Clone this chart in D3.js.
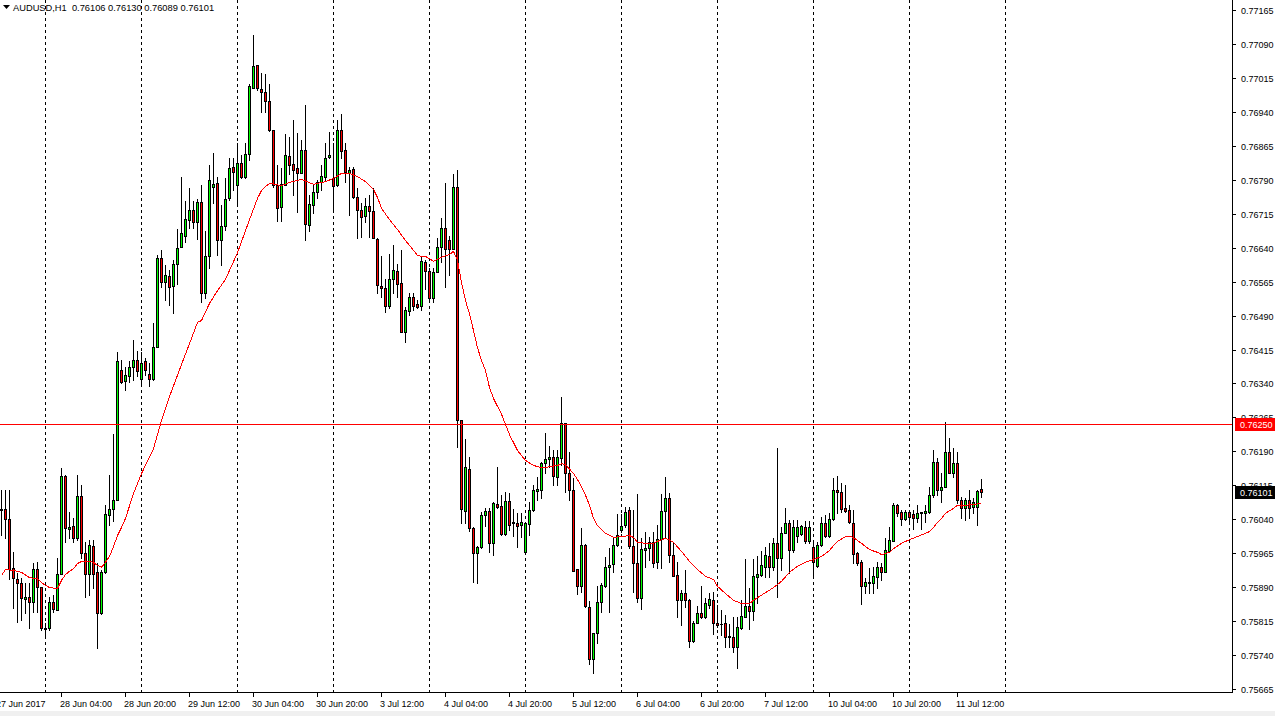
<!DOCTYPE html>
<html><head><meta charset="utf-8">
<script src="https://cdn.jsdelivr.net/npm/d3@7"></script>
<style>
html,body{margin:0;padding:0;background:#fff;overflow:hidden}
svg{display:block}
text{font-family:"Liberation Sans",Arial,sans-serif}
</style></head><body>
<svg id="c" width="1275" height="716"></svg>
<script>
// ---------- data ----------
const symbolTitle = "AUDUSD,H1";
const lastBarOHLC = [0.76106, 0.76130, 0.76089, 0.76101];

const opens = [0.76060,0.76063,0.76041,0.75932,0.75908,0.75899,0.75864,0.75868,0.75857,0.75930,
0.75890,0.75798,0.75800,0.75857,0.75840,0.75919,0.76136,0.76018,0.76025,0.75999,
0.76091,0.75966,0.75919,0.75981,0.75924,0.75833,0.75924,0.76049,0.76063,0.76083,
0.76370,0.76345,0.76356,0.76376,0.76392,0.76350,0.76390,0.76361,0.76350,0.76420,
0.76617,0.76564,0.76577,0.76555,0.76604,0.76641,0.76666,0.76701,0.76723,0.76697,
0.76741,0.76540,0.76622,0.76774,0.76783,0.76657,0.76688,0.76750,0.76818,0.76778,
0.76827,0.76796,0.76847,0.76993,0.77044,0.76990,0.76984,0.76964,0.76900,0.76778,
0.76730,0.76778,0.76842,0.76825,0.76816,0.76805,0.76856,0.76690,0.76734,0.76763,
0.76785,0.76796,0.76840,0.76794,0.76778,0.76900,0.76856,0.76805,0.76814,0.76752,
0.76723,0.76710,0.76732,0.76721,0.76659,0.76555,0.76551,0.76511,0.76571,0.76588,
0.76562,0.76454,0.76500,0.76531,0.76516,0.76511,0.76608,0.76588,0.76529,0.76586,
0.76641,0.76683,0.76657,0.76637,0.76774,0.76259,0.76058,0.76151,0.76021,0.75966,
0.75979,0.76049,0.76058,0.75988,0.76074,0.76069,0.76007,0.76080,0.76032,0.76032,
0.76027,0.75968,0.76030,0.76060,0.76102,0.76105,0.76164,0.76173,0.76178,0.76133,
0.76175,0.76253,0.76142,0.76105,0.75930,0.75893,0.75983,0.75846,0.75731,0.75789,
0.75857,0.75893,0.75935,0.75941,0.75983,0.76016,0.76027,0.76060,0.75981,0.75943,
0.75866,0.75972,0.75976,0.75990,0.75946,0.75996,0.76058,0.76087,0.75961,0.75917,
0.75862,0.75877,0.75862,0.75771,0.75811,0.75833,0.75824,0.75851,0.75862,0.75811,
0.75809,0.75811,0.75782,0.75780,0.75758,0.75800,0.75824,0.75848,0.75837,0.75912,
0.75917,0.75935,0.75959,0.75935,0.75988,0.75954,0.76010,0.76032,0.75972,0.76003,
0.76007,0.76023,0.75992,0.75979,0.75937,0.75983,0.76032,0.76003,0.76041,0.76105,
0.76100,0.76065,0.76060,0.76032,0.75966,0.75946,0.75893,0.75899,0.75899,0.75912,
0.75935,0.75924,0.75970,0.75992,0.76072,0.76056,0.76041,0.76056,0.76052,0.76043,
0.76055,0.76054,0.76056,0.76094,0.76167,0.76105,0.76111,0.76189,0.76142,0.76164,
0.76083,0.76065,0.76083,0.76067,0.76067,0.76106];

const highs = [0.76105,0.76105,0.76105,0.75968,0.75921,0.75910,0.75899,0.75899,0.75943,0.75946,
0.75890,0.75811,0.75868,0.75873,0.75954,0.76153,0.76138,0.76056,0.76043,0.76138,
0.76116,0.75990,0.75994,0.75994,0.75943,0.75928,0.76072,0.76138,0.76228,0.76410,
0.76392,0.76376,0.76390,0.76436,0.76412,0.76410,0.76396,0.76385,0.76474,0.76624,
0.76635,0.76602,0.76591,0.76613,0.76681,0.76796,0.76743,0.76772,0.76743,0.76747,
0.76778,0.76677,0.76823,0.76849,0.76796,0.76734,0.76794,0.76838,0.76838,0.76871,
0.76845,0.76871,0.77002,0.77110,0.77044,0.77026,0.77024,0.77002,0.76900,0.76823,
0.76816,0.76891,0.76884,0.76922,0.76893,0.76878,0.76955,0.76756,0.76778,0.76789,
0.76823,0.76871,0.76895,0.76871,0.76922,0.76935,0.76871,0.76818,0.76818,0.76772,
0.76739,0.76750,0.76756,0.76772,0.76661,0.76622,0.76571,0.76626,0.76646,0.76604,
0.76635,0.76509,0.76540,0.76540,0.76524,0.76619,0.76613,0.76595,0.76595,0.76661,
0.76705,0.76783,0.76666,0.76803,0.76812,0.76259,0.76217,0.76178,0.76023,0.75981,
0.76056,0.76065,0.76065,0.76078,0.76155,0.76094,0.76100,0.76098,0.76063,0.76054,
0.76054,0.76034,0.76078,0.76116,0.76133,0.76167,0.76231,0.76202,0.76193,0.76193,
0.76310,0.76253,0.76189,0.76131,0.75930,0.76021,0.75985,0.75859,0.75789,0.75893,
0.75899,0.75957,0.75976,0.76001,0.76052,0.76052,0.76067,0.76067,0.76060,0.76096,
0.75999,0.76012,0.76001,0.76012,0.76027,0.76096,0.76133,0.76098,0.75988,0.75946,
0.75884,0.75928,0.75864,0.75815,0.75848,0.75893,0.75866,0.75877,0.75879,0.75851,
0.75840,0.75829,0.75809,0.75824,0.75824,0.75862,0.75952,0.75888,0.75952,0.75959,
0.75970,0.75979,0.75988,0.75999,0.76197,0.76023,0.76065,0.76038,0.76038,0.76038,
0.76027,0.76036,0.76036,0.75988,0.75990,0.76045,0.76049,0.76054,0.76131,0.76136,
0.76120,0.76116,0.76072,0.76060,0.75968,0.75950,0.75910,0.75932,0.75935,0.75946,
0.75943,0.75999,0.76023,0.76076,0.76074,0.76060,0.76060,0.76060,0.76060,0.76072,
0.76056,0.76072,0.76111,0.76193,0.76175,0.76142,0.76255,0.76219,0.76197,0.76189,
0.76090,0.76087,0.76105,0.76087,0.76105,0.76130];

const lows = [0.76005,0.75999,0.75908,0.75844,0.75813,0.75817,0.75833,0.75800,0.75835,0.75835,
0.75795,0.75784,0.75795,0.75835,0.75840,0.75919,0.75990,0.75999,0.75990,0.75994,
0.75954,0.75868,0.75873,0.75888,0.75756,0.75831,0.75921,0.76027,0.76036,0.76083,
0.76341,0.76326,0.76343,0.76348,0.76356,0.76337,0.76359,0.76334,0.76348,0.76420,
0.76553,0.76524,0.76513,0.76496,0.76560,0.76641,0.76652,0.76683,0.76683,0.76659,
0.76520,0.76529,0.76595,0.76739,0.76624,0.76602,0.76679,0.76745,0.76767,0.76734,
0.76794,0.76794,0.76834,0.76993,0.76988,0.76940,0.76940,0.76898,0.76774,0.76699,
0.76699,0.76778,0.76803,0.76756,0.76719,0.76805,0.76657,0.76677,0.76717,0.76750,
0.76767,0.76789,0.76838,0.76723,0.76776,0.76838,0.76785,0.76712,0.76750,0.76661,
0.76663,0.76697,0.76663,0.76661,0.76540,0.76531,0.76498,0.76507,0.76540,0.76531,
0.76454,0.76432,0.76491,0.76502,0.76507,0.76502,0.76549,0.76520,0.76520,0.76586,
0.76608,0.76553,0.76580,0.76637,0.76200,0.76032,0.76032,0.76014,0.75901,0.75899,
0.75976,0.76025,0.75968,0.75961,0.76065,0.76005,0.76005,0.76016,0.76003,0.75979,
0.76001,0.75966,0.76005,0.76058,0.76083,0.76087,0.76142,0.76155,0.76116,0.76116,
0.76160,0.76100,0.76083,0.75926,0.75875,0.75879,0.75846,0.75720,0.75700,0.75767,
0.75835,0.75890,0.75835,0.75924,0.75981,0.76012,0.76023,0.75976,0.75879,0.75857,
0.75842,0.75935,0.75950,0.75935,0.75932,0.75932,0.75999,0.75946,0.75915,0.75824,
0.75806,0.75846,0.75758,0.75769,0.75811,0.75822,0.75822,0.75844,0.75787,0.75802,
0.75784,0.75758,0.75758,0.75747,0.75711,0.75798,0.75824,0.75798,0.75817,0.75855,
0.75915,0.75912,0.75912,0.75928,0.75868,0.75928,0.76010,0.75921,0.75968,0.75990,
0.76005,0.75988,0.75988,0.75912,0.75935,0.75981,0.76001,0.76001,0.76038,0.76054,
0.76056,0.76056,0.76032,0.75943,0.75939,0.75853,0.75877,0.75877,0.75877,0.75888,
0.75906,0.75924,0.75968,0.75992,0.76047,0.76027,0.76038,0.76032,0.76018,0.76034,
0.76018,0.76034,0.76054,0.76090,0.76094,0.76078,0.76111,0.76142,0.76133,0.76076,
0.76043,0.76038,0.76043,0.76054,0.76027,0.76089];

const closes = [0.76063,0.76041,0.75930,0.75910,0.75899,0.75866,0.75868,0.75857,0.75930,0.75890,
0.75800,0.75800,0.75857,0.75842,0.75919,0.76136,0.76021,0.76023,0.75999,0.76091,
0.75966,0.75919,0.75983,0.75919,0.75833,0.75924,0.76052,0.76063,0.76083,0.76390,
0.76343,0.76359,0.76376,0.76392,0.76368,0.76385,0.76370,0.76350,0.76420,0.76617,
0.76564,0.76580,0.76553,0.76604,0.76639,0.76672,0.76703,0.76723,0.76697,0.76741,
0.76540,0.76622,0.76789,0.76781,0.76657,0.76688,0.76747,0.76816,0.76807,0.76827,
0.76796,0.76847,0.76997,0.77041,0.76993,0.76984,0.76964,0.76900,0.76778,0.76728,
0.76781,0.76845,0.76823,0.76812,0.76805,0.76856,0.76692,0.76736,0.76763,0.76785,
0.76798,0.76838,0.76845,0.76776,0.76900,0.76854,0.76807,0.76812,0.76752,0.76723,
0.76708,0.76732,0.76721,0.76661,0.76558,0.76551,0.76511,0.76571,0.76591,0.76560,
0.76454,0.76502,0.76531,0.76511,0.76509,0.76611,0.76588,0.76529,0.76586,0.76641,
0.76683,0.76637,0.76637,0.76774,0.76259,0.76063,0.76155,0.76021,0.75966,0.75979,
0.76049,0.76058,0.75988,0.76076,0.76067,0.76007,0.76080,0.76027,0.76034,0.76025,
0.76034,0.76032,0.76060,0.76105,0.76107,0.76164,0.76173,0.76178,0.76136,0.76178,
0.76253,0.76142,0.76105,0.75926,0.75893,0.75983,0.75848,0.75731,0.75789,0.75857,
0.75895,0.75935,0.75939,0.75983,0.76005,0.76025,0.76056,0.75981,0.75943,0.75866,
0.75974,0.75976,0.75990,0.75943,0.75996,0.76058,0.76087,0.75961,0.75915,0.75862,
0.75877,0.75862,0.75771,0.75811,0.75833,0.75824,0.75855,0.75864,0.75811,0.75806,
0.75808,0.75780,0.75780,0.75758,0.75802,0.75826,0.75848,0.75837,0.75915,0.75919,
0.75939,0.75961,0.75935,0.75988,0.75954,0.76010,0.76032,0.75972,0.76023,0.76023,
0.76025,0.75992,0.76023,0.75946,0.75983,0.76032,0.76003,0.76041,0.76105,0.76100,
0.76063,0.76058,0.76034,0.75963,0.75943,0.75893,0.75901,0.75901,0.75915,0.75935,
0.75924,0.75972,0.75994,0.76072,0.76054,0.76041,0.76056,0.76045,0.76043,0.76054,
0.76054,0.76058,0.76094,0.76167,0.76105,0.76111,0.76189,0.76142,0.76164,0.76083,
0.76065,0.76083,0.76065,0.76078,0.76102,0.76101];

// moving average (red line), read at selected bars
const maIndex = [0,1,3,5,7,9,10,12,14,15,16,17,18,19,20,22,23,24,25,26,27,28,29,30,31,33,35,38,40,42,45,47,49,50,52,54,56,59,62,64,65,66,67,70,72,75,78,81,83,85,87,89,91,93,94,95,97,99,101,103,104,105,106,108,110,112,113,114,115,116,117,118,119,120,121,122,123,125,127,129,131,133,135,137,139,140,141,143,144,145,146,147,148,149,151,153,155,157,158,159,161,163,165,166,168,170,172,174,176,178,179,181,183,185,187,188,189,191,193,195,197,199,201,203,205,207,208,209,211,212,213,214,215,216,217,219,220,222,223,225,227,229,231,232,233,234,235,236,237,238,239,241,243,245];
const maValue = [0.75917,0.75930,0.75928,0.75924,0.75912,0.75910,0.75901,0.75890,0.75888,0.75906,0.75919,0.75926,0.75932,0.75943,0.75948,0.75948,0.75946,0.75939,0.75935,0.75946,0.75959,0.75981,0.76005,0.76023,0.76043,0.76098,0.76142,0.76197,0.76259,0.76312,0.76383,0.76429,0.76476,0.76480,0.76518,0.76546,0.76571,0.76630,0.76703,0.76750,0.76767,0.76776,0.76783,0.76778,0.76785,0.76792,0.76781,0.76787,0.76794,0.76805,0.76805,0.76798,0.76787,0.76770,0.76752,0.76728,0.76703,0.76681,0.76657,0.76635,0.76624,0.76622,0.76622,0.76611,0.76620,0.76626,0.76633,0.76613,0.76564,0.76524,0.76495,0.76458,0.76420,0.76392,0.76370,0.76332,0.76308,0.76273,0.76228,0.76193,0.76171,0.76160,0.76155,0.76157,0.76160,0.76164,0.76162,0.76142,0.76129,0.76113,0.76094,0.76072,0.76043,0.76027,0.76010,0.76001,0.76003,0.76005,0.76001,0.75990,0.75988,0.75988,0.75996,0.75999,0.75990,0.75970,0.75948,0.75930,0.75915,0.75908,0.75893,0.75877,0.75862,0.75855,0.75855,0.75862,0.75868,0.75879,0.75890,0.75904,0.75924,0.75937,0.75946,0.75952,0.75959,0.75972,0.75983,0.75992,0.76003,0.76003,0.76001,0.75994,0.75988,0.75981,0.75974,0.75968,0.75963,0.75968,0.75976,0.75988,0.75996,0.76003,0.76010,0.76014,0.76023,0.76034,0.76043,0.76054,0.76060,0.76065,0.76072,0.76072,0.76074,0.76076];

const dayStartIndex = [11,35,59,83,107,131,155,179,203,227,251];
const timeTickIndex = [-1,15,31,47,63,79,95,111,127,143,159,175,191,207,223,239];
const timeTickLabels = ["27 Jun 2017","28 Jun 04:00","28 Jun 20:00","29 Jun 12:00","30 Jun 04:00","30 Jun 20:00","3 Jul 12:00","4 Jul 04:00","4 Jul 20:00","5 Jul 12:00","6 Jul 04:00","6 Jul 20:00","7 Jul 12:00","10 Jul 04:00","10 Jul 20:00","11 Jul 12:00"];
const priceTicks = [0.77165,0.77090,0.77015,0.76940,0.76865,0.76790,0.76715,0.76640,0.76565,0.76490,0.76415,0.76340,0.76265,0.76190,0.76115,0.76040,0.75965,0.75890,0.75815,0.75740,0.75665];
const hLinePrice = 0.76250;
const bidPrice = 0.76101;

// ---------- layout ----------
const W = 1275, H = 716, plotR = 1232, plotB = 692;
const svg = d3.select("#c");
svg.append("rect").attr("width",W).attr("height",H).attr("fill","#fff");
svg.append("rect").attr("x",0).attr("y",711).attr("width",W).attr("height",5).attr("fill","#f0f0f0");

const x = d3.scaleLinear().domain([-0.25, 307.75]).range([0, plotR]);
const y = d3.scaleLinear().domain([0.75665, 0.77165]).range([689.5, 10.5]);
const row = p => Math.floor(y(p));

const plot = svg.append("g").attr("shape-rendering","crispEdges");

// vertical dashed day grid
plot.selectAll("line.grid").data(dayStartIndex).join("line")
  .attr("x1", d => x(d)+0.5).attr("x2", d => x(d)+0.5)
  .attr("y1", 0).attr("y2", plotB)
  .attr("stroke","#000").attr("stroke-width",1).attr("stroke-dasharray","3,3");

// candles
const bars = opens.map((o,i)=>({i, o, h: highs[i], l: lows[i], c: closes[i]}));
const g = plot.append("g");
bars.forEach(b => {
  const cx = Math.round(x(b.i));
  const hi = row(b.h), lo = row(b.l);
  g.append("rect").attr("x",cx).attr("y",hi).attr("width",1).attr("height",lo-hi+1).attr("fill","#000");
  const top = row(Math.max(b.o,b.c)), bot = row(Math.min(b.o,b.c));
  g.append("rect").attr("x",cx-1).attr("y",top).attr("width",3).attr("height",bot-top+1).attr("fill","#000");
  if (bot-top >= 2) {
    g.append("rect").attr("x",cx).attr("y",top+1).attr("width",1).attr("height",bot-top-1)
      .attr("fill", b.c >= b.o ? "#00ff00" : "#ff0000");
  }
});

// moving average
const maPts = maIndex.map((d,k)=>[d, maValue[k]]);
plot.append("path").datum(maPts)
  .attr("d", d3.line().x(d => x(d[0])+0.5).y(d => y(d[1])))
  .attr("fill","none").attr("stroke","#ff0000").attr("stroke-width",1);

// horizontal line
plot.append("line").attr("x1",0).attr("x2",plotR).attr("y1",row(hLinePrice)+0.5).attr("y2",row(hLinePrice)+0.5)
  .attr("stroke","#ff0000").attr("stroke-width",1);

// frame
plot.append("line").attr("x1",plotR+0.5).attr("x2",plotR+0.5).attr("y1",0).attr("y2",plotB+1).attr("stroke","#000");
plot.append("line").attr("x1",0).attr("x2",plotR+1).attr("y1",plotB+0.5).attr("y2",plotB+0.5).attr("stroke","#000");

// price axis
const yAxis = svg.append("g");
priceTicks.forEach(p => {
  const yy = row(p);
  yAxis.append("line").attr("x1",plotR).attr("x2",plotR+4).attr("y1",yy+0.5).attr("y2",yy+0.5)
    .attr("stroke","#000").attr("shape-rendering","crispEdges");
  yAxis.append("text").attr("x",1241).attr("y",yy+4).attr("font-size",9).attr("fill","#000").text(p.toFixed(5));
});
function priceTag(p, bg) {
  const yy = row(p);
  yAxis.append("rect").attr("x",1235).attr("y",yy-6).attr("width",40).attr("height",13).attr("fill",bg)
    .attr("shape-rendering","crispEdges");
  yAxis.append("text").attr("x",1240).attr("y",yy+4).attr("font-size",9).attr("fill","#fff").text(p.toFixed(5));
}
priceTag(hLinePrice, "#ff0000");
priceTag(bidPrice, "#000000");

// time axis
const xAxis = svg.append("g");
timeTickIndex.forEach((t,k) => {
  const xx = Math.round(x(t));
  xAxis.append("line").attr("x1",xx+0.5).attr("x2",xx+0.5).attr("y1",plotB).attr("y2",plotB+5)
    .attr("stroke","#000").attr("shape-rendering","crispEdges");
  xAxis.append("text").attr("x",xx-1).attr("y",707).attr("font-size",9).attr("fill","#000").text(timeTickLabels[k]);
});

// title
svg.append("path").attr("d","M3,5 L10,5 L6.5,9 Z").attr("fill","#000");
svg.append("text").attr("x",13).attr("y",11).attr("font-size",9.3).attr("fill","#000")
  .style("white-space","pre")
  .text(symbolTitle + "  " + lastBarOHLC.map(v=>v.toFixed(5)).join(" "));
</script>
</body></html>
